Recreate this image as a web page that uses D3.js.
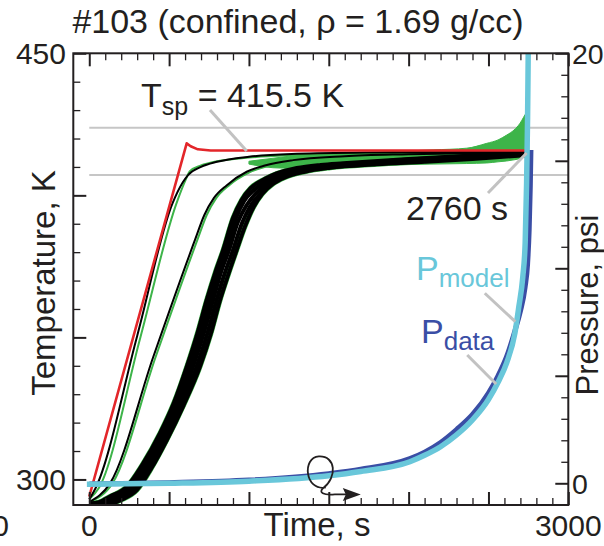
<!DOCTYPE html>
<html><head><meta charset="utf-8">
<script src="https://cdn.jsdelivr.net/npm/d3@7"></script>
<style>
html,body{margin:0;padding:0;background:#fff;}
svg{display:block;}
text{font-family:"Liberation Sans",Arial,Helvetica,sans-serif;fill:#231f20;}
</style></head><body>
<svg id="c" width="604" height="546"></svg>
<script>
// ---------- data ----------
const titleText = "#103 (confined, \u03c1 = 1.69 g/cc)";
const timeMajor = [0, 500, 1000, 1500, 2000, 2500, 3000];
const timeLabels = ["0", "", "", "", "", "", "3000"];
const tempMajor = [300, 350, 400, 450];
const tempLabels = ["300", "", "", "450"];
const pressMajor = [0, 5, 10, 15, 20];
const pressLabels = ["0", "", "", "", "20"];
const setpointK = 415.5;
const refBands = [423.8, 407.2];

// temperature curves [time s, temperature K]
const redSetpoint = [[0,294],[610,418.3],[635,417.3],[680,416.2],[760,415.8],[2745,415.8]];
const black1 = [[0,293],[40,297],[300,350.5],[520,397],[585,404.5],[620,407.2],[700,410],[800,411.8],[1000,413.6],[1300,414.6],[1800,415.1],[2745,415.4]];
const green1 = [[0,293],[60,297],[320,350],[545,397],[600,405],[630,408.5],[700,410.5],[800,412],[1000,413.3],[1300,414.2],[1800,414.8],[2745,415.3]];
const black2 = [[0,292],[130,298.6],[400,343],[662,384.3],[720,393],[780,399],[860,403.5],[986,408.3],[1100,410.5],[1277,412.4],[1600,413.8],[2000,414.5],[2745,415.2]];
const green2 = [[0,292],[145,298.6],[415,343],[677,384.3],[735,393],[795,399],[875,403.5],[1000,408],[1120,410.3],[1300,412.2],[1600,413.5],[2000,414.3],[2745,415.1]];
const bandA = [[0,291.5],[60,292],[130,294],[234,297.4],[330,305],[443,316.3],[530,327],[610,339.6],[680,352],[735,363.1],[790,373],[838,380.7],[900,392],[954,398.4],[1010,402.5],[1100,405.8],[1173,407.7],[1300,409.6],[1450,410.7],[1590,411.3],[2000,412.8],[2400,414],[2745,414.8]];
const bandB = [[0,291.4],[80,291.8],[150,293.5],[250,297],[350,305],[460,316],[550,327],[630,339.6],[700,352],[755,363.1],[808,373],[855,380.7],[915,391.5],[970,398],[1030,401.8],[1110,405],[1190,407.2],[1310,409.2],[1460,410.4],[1600,411],[2000,412.6],[2400,413.8],[2745,414.7]];
const bandC = [[0,291.3],[90,291.6],[170,293.2],[265,296.8],[365,304.8],[470,315.5],[565,327],[650,339.6],[720,352],[775,363.1],[825,373],[875,380.7],[930,390.5],[985,396.5],[1045,400.8],[1120,404.3],[1200,406.6],[1320,408.8],[1480,410],[1650,410.8],[2000,412.2],[2400,413.5],[2745,414.6]];
const bandD = [[0,291.2],[100,291.4],[185,293],[280,296.5],[378,304.5],[478,315],[578,326.5],[672,339.6],[740,351.5],[797,363.1],[848,372.5],[900,380.7],[955,390],[1005,395.8],[1065,400.2],[1135,404],[1215,406.4],[1335,408.5],[1495,409.8],[1700,410.7],[2050,411.9],[2400,413.1],[2745,414.4]];
const bandE = [[0,291],[120,291.3],[200,292.8],[297,296.2],[390,304],[485,313.8],[590,326],[693,339.6],[760,351],[819,363.1],[870,372],[923,380.7],[975,389],[1030,396],[1083,400.5],[1150,404],[1226,406.3],[1350,408.3],[1508,409.7],[1800,410.9],[2100,411.8],[2400,412.8],[2745,414.2]];
// noisy green data envelope [time, upper K, lower K]
const greenNoise = [[1000,412.0,411.0],[1200,413.4,409.6],[1320,414.2,409.6],[1700,415.0,410.7],[2153,416.0,411.0],[2364,416.6,411.2],[2489,418.3,411.4],[2560,419.5,411.8],[2614,421.2,412.1],[2660,423.0,412.5],[2698,425.4,413.0],[2720,427.5,413.6],[2739,429.4,414.2],[2752,431.0,415.0]];

// pressure curves [time s, pressure psi]
const pData = [[0,-0.03],[500,0.03],[1000,0.15],[1500,0.45],[1700,0.65],[2008,1.15],[2100,1.45],[2200,1.9],[2300,2.5],[2400,3.2],[2500,4.2],[2560,5.0],[2614,5.9],[2666,7.1],[2700,8.0],[2729,9.1],[2745,10.2],[2755,11.8],[2762,13.8],[2766,15.5]];
const pModel = [[-15,-0.05],[500,0],[1000,0.1],[1500,0.35],[1700,0.55],[2008,1.0],[2100,1.3],[2200,1.7],[2300,2.25],[2400,2.95],[2500,3.9],[2560,4.7],[2614,5.6],[2666,7.0],[2690,8.2],[2715,9.6],[2730,11.2],[2739,14.0],[2745,17.0],[2749,20.0],[2751,21.5]];

// ---------- layout ----------
const L = 73.3, R = 568.3, T = 53.3, B = 505;
const svg = d3.select("#c");
const x = d3.scaleLinear().domain([-100, 3000]).range([L, R]);
const yT = d3.scaleLinear().domain([291, 450]).range([B, T]);
const yP = d3.scaleLinear().domain([-1.01, 20]).range([B, T]);

svg.append("clipPath").attr("id","clip").append("rect")
  .attr("x", L).attr("y", T).attr("width", R-L).attr("height", B-T);
const plot = svg.append("g").attr("clip-path","url(#clip)");

// reference grey lines
plot.selectAll("line.ref").data(refBands).join("line")
  .attr("x1", x(0)).attr("x2", R).attr("y1", d=>yT(d)).attr("y2", d=>yT(d))
  .attr("stroke","#c6c6c6").attr("stroke-width",2);

const lineT = d3.line().x(d=>x(d[0])).y(d=>yT(d[1])).curve(d3.curveMonotoneX);
const lineP = d3.line().x(d=>x(d[0])).y(d=>yP(d[1])).curve(d3.curveMonotoneX);

const GREEN = "#3db449", RED = "#e3262a", CYAN = "#69c7da", BLUE = "#3a4ea5";

// green noise area
plot.append("path").datum(greenNoise)
  .attr("d", d3.area().x(d=>x(d[0])).y0(d=>yT(d[2])).y1(d=>yT(d[1])).curve(d3.curveMonotoneX))
  .attr("fill", GREEN).attr("stroke", GREEN).attr("stroke-width", 1);

// band green underlay
[bandA, bandE].forEach(c => plot.append("path").datum(c).attr("d", lineT)
  .attr("fill","none").attr("stroke",GREEN).attr("stroke-width",5));
[green1, green2].forEach(c => plot.append("path").datum(c).attr("d", lineT)
  .attr("fill","none").attr("stroke",GREEN).attr("stroke-width",2));
[bandA, bandB, bandC, bandD, bandE].forEach(c => plot.append("path").datum(c).attr("d", lineT)
  .attr("fill","none").attr("stroke","#000").attr("stroke-width",4));
[black1, black2].forEach(c => plot.append("path").datum(c).attr("d", lineT)
  .attr("fill","none").attr("stroke","#000").attr("stroke-width",2));
plot.append("path").datum(redSetpoint).attr("d", d3.line().x(d=>x(d[0])).y(d=>yT(d[1])))
  .attr("fill","none").attr("stroke",RED).attr("stroke-width",2.6).attr("stroke-linejoin","round");

// pressure
plot.append("path").datum(pData).attr("d", lineP)
  .attr("fill","none").attr("stroke",BLUE).attr("stroke-width",5);
plot.append("path").datum(pModel).attr("d", lineP)
  .attr("fill","none").attr("stroke",CYAN).attr("stroke-width",5.5);

// ---------- axes (inward ticks) ----------
const minor = (lo, hi, step, majors) => d3.range(lo, hi + step/2, step).map(v => +v.toFixed(6)).filter(v => !majors.includes(v));
const timeMinor = minor(0, 3000, 100, timeMajor);
const tempMinor = minor(300, 450, 10, tempMajor);
const pressMinor = minor(0, 20, 1, pressMajor);

function drawAxis(axisGen, tr) {
  const g = svg.append("g").attr("transform", tr).call(axisGen);
  g.select(".domain").remove();
  g.selectAll("text").remove();
  return g;
}
[[d3.axisBottom, `translate(0,${B})`, x, timeMajor, timeMinor],
 [d3.axisTop, `translate(0,${T})`, x, timeMajor, timeMinor],
 [d3.axisLeft, `translate(${L},0)`, yT, tempMajor, tempMinor],
 [d3.axisRight, `translate(${R},0)`, yP, pressMajor, pressMinor]].forEach(([fn, tr, sc, maj, mn]) => {
  drawAxis(fn(sc).tickValues(maj).tickSize(-13), tr).selectAll("line").attr("stroke","#231f20").attr("stroke-width",2);
  drawAxis(fn(sc).tickValues(mn).tickSize(-7), tr).selectAll("line").attr("stroke","#231f20").attr("stroke-width",1.3);
});

// frame
svg.append("rect").attr("x",L).attr("y",T).attr("width",R-L).attr("height",B-T)
  .attr("fill","none").attr("stroke","#231f20").attr("stroke-width",2);

// tick labels
const FS = 30;
svg.selectAll("text.xt").data(timeMajor.map((v,i)=>[v,timeLabels[i]]).filter(d=>d[1])).join("text")
  .attr("x", d=>x(d[0])).attr("y", 535.5).attr("text-anchor","middle").attr("font-size",FS).text(d=>d[1]);
svg.selectAll("text.yt").data(tempMajor.map((v,i)=>[v,tempLabels[i]]).filter(d=>d[1])).join("text")
  .attr("x", 66).attr("y", d=>yT(d[0])+10.5).attr("text-anchor","end").attr("font-size",FS).text(d=>d[1]);
svg.selectAll("text.pt").data(pressMajor.map((v,i)=>[v,pressLabels[i]]).filter(d=>d[1])).join("text")
  .attr("x", 572).attr("y", d=>yP(d[0])+10.5).attr("text-anchor","start").attr("font-size",28.5).text(d=>d[1]);
// clipped label from a neighbouring panel
svg.append("text").attr("x", 9).attr("y", 535.5).attr("text-anchor","end").attr("font-size",FS).text("0");

// axis titles
svg.append("text").attr("x", 317).attr("y", 536).attr("text-anchor","middle").attr("font-size",33).text("Time, s");
svg.append("text").attr("transform","translate(55,283) rotate(-90)").attr("text-anchor","middle").attr("font-size",33).text("Temperature, K");
svg.append("text").attr("transform","translate(598,305) rotate(-90)").attr("text-anchor","middle").attr("font-size",31).text("Pressure, psi");

// title
svg.append("text").attr("x", 298).attr("y", 33).attr("text-anchor","middle").attr("font-size",34).text(titleText);

// annotations
const GREY = "#c2c2c2";
function leader(p1, p2) {
  svg.append("line").attr("x1",p1[0]).attr("y1",p1[1]).attr("x2",p2[0]).attr("y2",p2[1])
    .attr("stroke",GREY).attr("stroke-width",3);
}
leader([x(756), yT(430)], [x(986), yT(415.6)]);
leader([x(2497), yT(400.8)], [x(2739), yT(414.9)]);
leader([x(2477), yP(8.84)], [x(2668), yP(7.52)]);
leader([x(2367), yP(5.97)], [x(2548), yP(4.62)]);

const tsp = svg.append("text").attr("x", 141).attr("y", 106.7).attr("font-size",34);
tsp.append("tspan").text("T");
tsp.append("tspan").attr("font-size",25).attr("dy",8).text("sp");
tsp.append("tspan").attr("dy",-8).text(" = 415.5 K");

svg.append("text").attr("x", 406).attr("y", 220).attr("font-size",34).text("2760 s");

const pm = svg.append("text").attr("x", 416).attr("y", 280).attr("font-size",34).style("fill",CYAN);
pm.append("tspan").text("P");
pm.append("tspan").attr("font-size",26).attr("dy",7).text("model");
const pd = svg.append("text").attr("x", 421).attr("y", 343).attr("font-size",34).style("fill",BLUE);
pd.append("tspan").text("P");
pd.append("tspan").attr("font-size",26).attr("dy",7).text("data");

// heat-flow "Q" loop with arrow
const qx = x(1450), qy = yP(0.55);
svg.append("path")
  .attr("d", `M${qx+5},${qy+16} C${qx-16},${qy+20} ${qx-19},${qy-14} ${qx-2},${qy-15} C${qx+15},${qy-16} ${qx+17},${qy+6} ${qx+2},${qy+17} C${qx-2},${qy+21} ${qx+2},${qy+24} ${qx+14},${qy+23} L${qx+26},${qy+23}`)
  .attr("fill","none").attr("stroke","#231f20").attr("stroke-width",1.8);
svg.append("path")
  .attr("d", `M${qx+40},${qy+23} L${qx+22},${qy+16.5} L${qx+25},${qy+23} L${qx+22},${qy+29.5} Z`)
  .attr("fill","#231f20");
</script></body></html>
